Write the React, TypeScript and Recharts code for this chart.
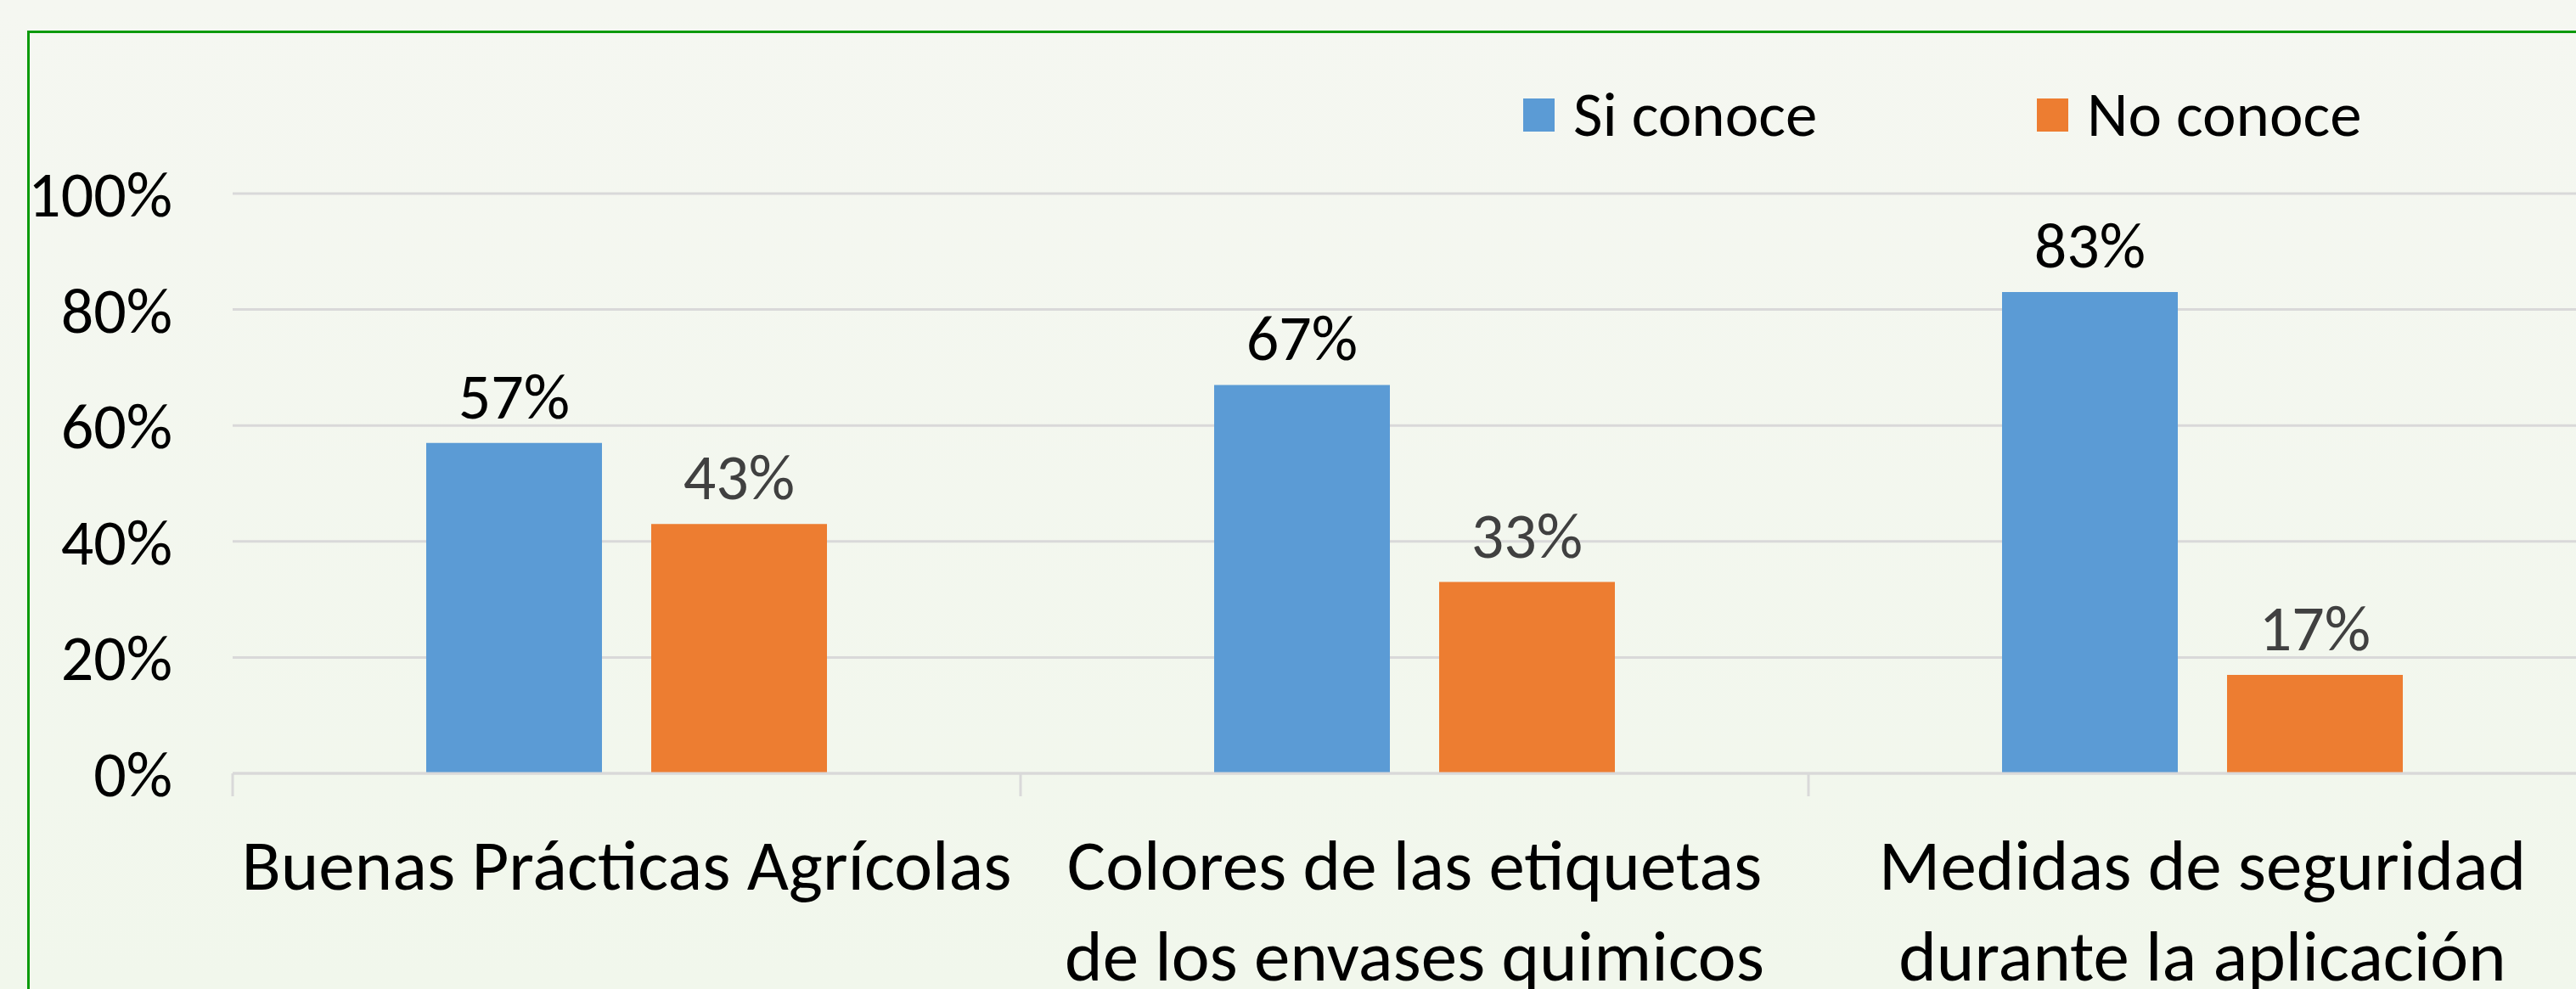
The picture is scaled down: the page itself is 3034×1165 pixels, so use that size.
import React from "react";
import { BarChart, Bar, XAxis, YAxis, CartesianGrid, Legend, LabelList } from "recharts";

const categories = [
  "Buenas Prácticas Agrícolas",
  "Colores de las etiquetas\nde los envases quimicos",
  "Medidas de seguridad\ndurante la aplicación",
];
const siConoce = [57, 67, 83];
const noConoce = [43, 33, 17];
const yTicks = [0, 20, 40, 60, 80, 100];
const seriesNames = ["Si conoce", "No conoce"];

const data = categories.map((c, i) => ({ name: c, si: siConoce[i], no: noConoce[i] }));

const FONT = "Carlito, Lato, sans-serif";
const BLUE = "#5B9BD5";
const ORANGE = "#ED7D31";

const CatTick = (props: any) => {
  const { x, y, payload } = props;
  const half = payload && payload.offset != null ? payload.offset : 0;
  const lines = String(payload.value).split("\n");
  return (
    <g>
      <line x1={x - half} x2={x - half} y1={y} y2={y + 27} stroke="#D9D9D9" strokeWidth={3} />
      {lines.map((l, i) => (
        <text key={i} x={x} y={y + 137 + i * 107} textAnchor="middle" fontFamily={FONT} fontSize={85} fill="#000">
          {l}
        </text>
      ))}
    </g>
  );
};

const renderLegend = (props: any) => {
  const payload = [...(props.payload || [])].sort(
    (a: any, b: any) => seriesNames.indexOf(a.value) - seriesNames.indexOf(b.value)
  );
  return (
    <div style={{ display: "flex", flexDirection: "row", alignItems: "center" }}>
      {payload.map((p: any, i: number) => (
        <div key={i} style={{ display: "flex", alignItems: "center", width: i === 0 ? 605 : 400 }}>
          <div style={{ width: 37, height: 39, background: p.color, marginRight: 22 }} />
          <span style={{ fontFamily: FONT, fontSize: 75, color: "#000", lineHeight: "90px" }}>{p.value}</span>
        </div>
      ))}
    </div>
  );
};

export default function App() {
  return (
    <div
      style={{
        position: "absolute",
        left: 0,
        top: 0,
        width: 3034,
        height: 1165,
        overflow: "hidden",
        background: "linear-gradient(#F5F7F1, #F1F7EC)",
      }}
    >
      <div
        style={{
          position: "absolute",
          left: 32,
          top: 36,
          width: 3200,
          height: 1300,
          borderLeft: "3px solid #0A9A0A",
          borderTop: "3px solid #0A9A0A",
        }}
      />
      <div style={{ position: "absolute", left: 0, top: 0 }}>
        <BarChart
          width={3058}
          height={1165}
          data={data}
          margin={{ top: 228, right: 0, bottom: 0, left: 0 }}
          barSize={207}
          barGap={58}
        >
          <CartesianGrid vertical={false} stroke="#D9D9D9" strokeWidth={3} />
          <XAxis
            dataKey="name"
            height={254}
            axisLine={{ stroke: "#D9D9D9", strokeWidth: 3 }}
            tickLine={false}
            tickSize={0}
            tickMargin={0}
            interval={0}
            tick={<CatTick />}
          />
          <YAxis
            width={274}
            domain={[0, 100]}
            ticks={yTicks}
            axisLine={false}
            tickLine={false}
            tickSize={0}
            tickMargin={71}
            tickFormatter={(v: number) => `${v}%`}
            tick={{ fontFamily: FONT, fontSize: 76, fill: "#000" }}
          />
          <Legend
            layout="horizontal"
            verticalAlign="middle"
            align="center"
            content={renderLegend}
            wrapperStyle={{ position: "absolute", left: 1794, top: 90, width: 1240, height: 90 }}
          />
          <Bar dataKey="si" name={seriesNames[0]} fill={BLUE} isAnimationActive={false}>
            <LabelList
              dataKey="si"
              position="top"
              offset={29}
              formatter={(v: number) => `${v}%`}
              style={{ fontFamily: FONT, fontSize: 76, fill: "#000" }}
            />
          </Bar>
          <Bar dataKey="no" name={seriesNames[1]} fill={ORANGE} isAnimationActive={false}>
            <LabelList
              dataKey="no"
              position="top"
              offset={29}
              formatter={(v: number) => `${v}%`}
              style={{ fontFamily: FONT, fontSize: 76, fill: "#404040" }}
            />
          </Bar>
        </BarChart>
      </div>
    </div>
  );
}
